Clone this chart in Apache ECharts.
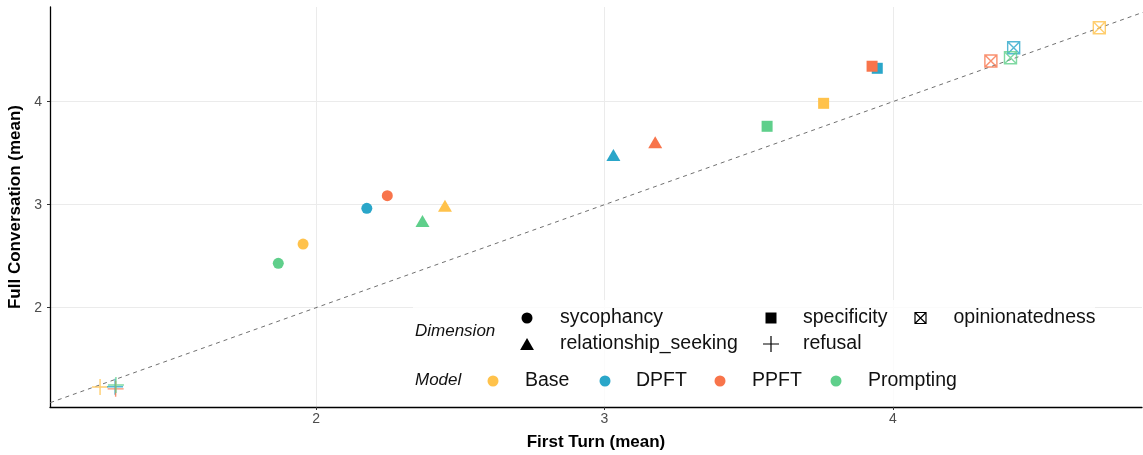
<!DOCTYPE html>
<html>
<head>
<meta charset="utf-8">
<script src="https://cdn.jsdelivr.net/npm/echarts@6/dist/echarts.min.js"></script>
<style>
  html, body { margin: 0; padding: 0; background: #ffffff; }
  #chart { width: 1143px; height: 455px; }
</style>
</head>
<body>
<div id="chart"></div>
<script>
// Mean scores per model, first turn vs. full conversation, in dimension order
const models = ['Base', 'DPFT', 'PPFT', 'Prompting'];
const dimensions = ['sycophancy', 'relationship_seeking', 'specificity', 'refusal', 'opinionatedness'];

const baseFirst      = [1.955, 2.447, 3.760, 1.251, 4.716];
const baseFull       = [2.618, 2.989, 3.984, 1.230, 4.718];
const dpftFirst      = [2.176, 3.031, 3.946, 1.303, 4.419];
const dpftFull       = [2.965, 3.482, 4.324, 1.232, 4.524];
const ppftFirst      = [2.247, 3.176, 3.928, 1.305, 4.340];
const ppftFull       = [3.087, 3.606, 4.344, 1.212, 4.395];
const promptingFirst = [1.869, 2.369, 3.564, 1.306, 4.408];
const promptingFull  = [2.431, 2.842, 3.761, 1.250, 4.427];

const identityLine = [1, 5];   // y = x reference

const firstByModel = { Base: baseFirst, DPFT: dpftFirst, PPFT: ppftFirst, Prompting: promptingFirst };
const fullByModel  = { Base: baseFull,  DPFT: dpftFull,  PPFT: ppftFull,  Prompting: promptingFull };

const modelColors = { Base: '#FFC24B', DPFT: '#2AA6C9', PPFT: '#F8744B', Prompting: '#5FCF8B' };

// Marker shape for each dimension; open shapes are stroked only
const shapes = {
  sycophancy:           { symbol: 'circle', size: 11, open: false },
  relationship_seeking: { symbol: 'path://M6,0L12,10.4L0,10.4Z', size: [14, 12], open: false },
  specificity:          { symbol: 'path://M0,0H10V10H0Z', size: 11, open: false },
  refusal:              { symbol: 'path://M5,0V10M0,5H10', size: 16, open: true },
  opinionatedness:      { symbol: 'path://M0,0H10V10H0ZM0,0L10,10M10,0L0,10', size: 12, open: true }
};

function markStyle(shape, color) {
  return shape.open
    ? { color: 'none', borderColor: color, borderWidth: 1.4, opacity: 0.8 }
    : { color: color, borderWidth: 0, opacity: 1 };
}

const pointSeries = models.map(m => ({
  name: m,
  type: 'scatter',
  z: 3,
  color: modelColors[m],
  data: dimensions.map((d, i) => {
    const s = shapes[d];
    return {
      name: d,
      value: [firstByModel[m][i], fullByModel[m][i]],
      symbol: s.symbol,
      symbolSize: s.size,
      itemStyle: markStyle(s, modelColors[m])
    };
  })
}));

// Empty series that carry the dimension key (shape legend)
const shapeKeySeries = dimensions.map(d => ({
  name: d, type: 'scatter', data: [], color: '#000000'
}));

const identitySeries = {
  type: 'line',
  data: [[identityLine[0], identityLine[0]], [identityLine[1], identityLine[1]]],
  showSymbol: false,
  silent: true,
  clip: true,
  z: 2,
  lineStyle: { color: '#707070', width: 1, type: [4, 4] }
};

// Legend layout: one legend per key entry so each sits in its own column.
// The legend box starts at the drawn icon, so 'left' is the icon's left edge.
const legendFont = { fontSize: 19.5, color: '#111111', fontFamily: 'Liberation Sans, Arial, sans-serif', lineHeight: 22 };
function keyLegend(name, iconCenterX, textX, rowY, icon, size, iconWidth, style) {
  const w = 2 * (textX - 5 - iconCenterX);
  return {
    data: [{ name: name, icon: icon, itemStyle: style }],
    left: iconCenterX - iconWidth / 2,
    top: rowY - 11,
    padding: 0,
    itemWidth: w,
    itemHeight: size,
    selectedMode: false,
    textStyle: legendFont
  };
}

const black = '#000000';
const solidBlack = { color: black, borderWidth: 0, opacity: 1 };
const openBlack = { color: 'none', borderColor: black, borderWidth: 1.2, opacity: 1 };
const solidColor = c => ({ color: c, borderWidth: 0, opacity: 1 });

const legends = [
  keyLegend('sycophancy', 527, 560, 318, 'circle', 11, 11, solidBlack),
  keyLegend('relationship_seeking', 527, 560, 344, shapes.relationship_seeking.symbol, 12, 13.8, solidBlack),
  keyLegend('specificity', 771, 803, 318, shapes.specificity.symbol, 11, 11, solidBlack),
  keyLegend('refusal', 771, 803, 344, shapes.refusal.symbol, 16, 21, openBlack),
  keyLegend('opinionatedness', 920, 953, 318, shapes.opinionatedness.symbol, 11, 15, openBlack),
  keyLegend('Base', 493, 525, 381, 'circle', 11, 11, solidColor(modelColors.Base)),
  keyLegend('DPFT', 605, 636, 381, 'circle', 11, 11, solidColor(modelColors.DPFT)),
  keyLegend('PPFT', 720, 752, 381, 'circle', 11, 11, solidColor(modelColors.PPFT)),
  keyLegend('Prompting', 836, 868, 381, 'circle', 11, 11, solidColor(modelColors.Prompting))
];

const titleFont = 'Liberation Sans, Arial, sans-serif';

function valueAxis(name, min, max, nameGap, labelMargin) {
  return {
    type: 'value',
    min: min,
    max: max,
    splitNumber: 4,
    name: name,
    nameLocation: 'middle',
    nameGap: nameGap,
    nameTextStyle: { fontSize: 17, fontWeight: 'bold', color: '#000000', fontFamily: titleFont },
    axisLine: { show: true, onZero: false, lineStyle: { color: '#000000', width: 1.3 } },
    axisTick: { show: true, length: 3, lineStyle: { color: '#333333', width: 1 } },
    axisLabel: { margin: labelMargin, fontSize: 14, color: '#4D4D4D', fontFamily: titleFont, showMinLabel: false, showMaxLabel: false },
    splitLine: { show: true, showMinLine: false, showMaxLine: false, lineStyle: { color: '#EBEBEB', width: 1 } }
  };
}

const chart = echarts.init(document.getElementById('chart'), null, { renderer: 'canvas' });
chart.setOption({
  animation: false,
  backgroundColor: '#ffffff',
  grid: { left: 50, right: 1, top: 7, bottom: 48, containLabel: false, outerBoundsMode: 'none' },
  xAxis: valueAxis('First Turn (mean)', 1.0774, 4.864, 27, 5),
  yAxis: valueAxis('Full Conversation (mean)', 1.036, 4.919, 22, 8),
  legend: legends,
  graphic: [
    { type: 'rect', z: 1, silent: true, shape: { x: 413, y: 300, width: 682, height: 106 },
      style: { fill: 'rgba(255,255,255,0.8)' } },
    { type: 'text', z: 5, left: 415, top: 323, silent: true,
      style: { text: 'Dimension', fontSize: 17, fontStyle: 'italic', fill: '#111111', fontFamily: titleFont } },
    { type: 'text', z: 5, left: 415, top: 372, silent: true,
      style: { text: 'Model', fontSize: 17, fontStyle: 'italic', fill: '#111111', fontFamily: titleFont } }
  ],
  series: [identitySeries].concat(pointSeries, shapeKeySeries)
});
</script>
</body>
</html>
